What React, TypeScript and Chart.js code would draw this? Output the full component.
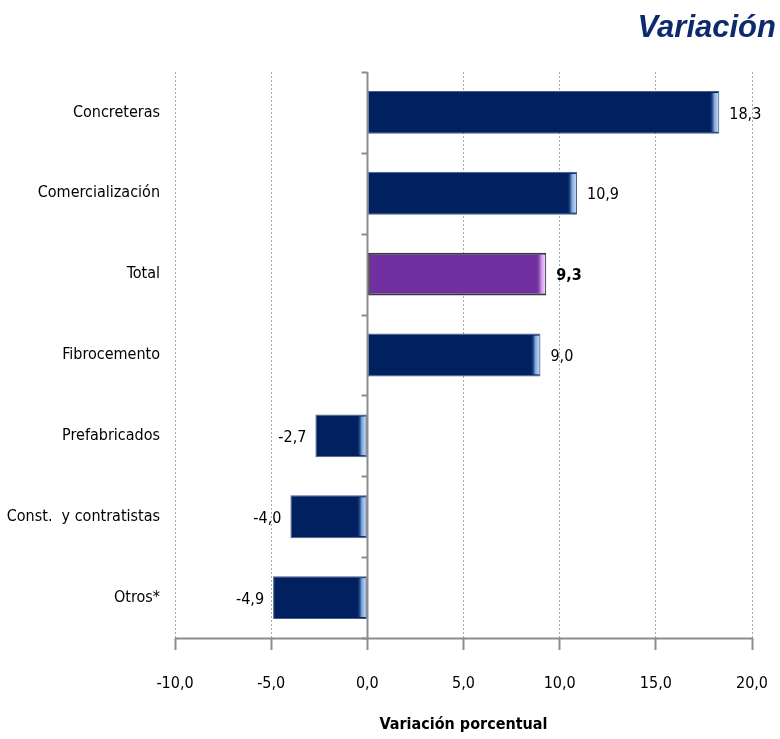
import React, { useEffect, useRef } from "react";
import { Chart, registerables } from "chart.js";

Chart.register(...registerables);

const categories = [
  "Concreteras",
  "Comercialización",
  "Total",
  "Fibrocemento",
  "Prefabricados",
  "Const.  y contratistas",
  "Otros*",
];
const values = [18.3, 10.9, 9.3, 9.0, -2.7, -4.0, -4.9];
const highlightCategory = "Total";
const xMin = -10;
const xMax = 20;
const xStep = 5;
const xTitle = "Variación porcentual";
const pageTitle = "Variación";

const FONT = "'Liberation Sans Narrow', 'DejaVu Sans Condensed', 'Noto Sans', sans-serif";
const NAVY = "#00205F";
const PURPLE = "#7030A0";

const fmt = (v: number) => v.toFixed(1).replace(".", ",");

const decorPlugin = {
  id: "decor",
  afterDatasetsDraw(chart: any) {
    const { ctx, chartArea, scales } = chart;
    const xs = scales.x;
    const ys = scales.y;
    const meta = chart.getDatasetMeta(0);
    ctx.save();
    ctx.setLineDash([]);
    // x axis line
    const yb = Math.round(chartArea.bottom) + 0.5;
    ctx.strokeStyle = "#8c8c8c";
    ctx.lineWidth = 2;
    ctx.beginPath();
    ctx.moveTo(xs.left, yb);
    ctx.lineTo(xs.right, yb);
    ctx.stroke();
    // zero line
    const x0 = Math.round(xs.getPixelForValue(0)) + 0.5;
    ctx.beginPath();
    ctx.moveTo(x0, chartArea.top);
    ctx.lineTo(x0, chartArea.bottom);
    ctx.stroke();
    // category boundary ticks on zero line
    const step = ys.getPixelForValue(1) - ys.getPixelForValue(0);
    for (let i = 0; i <= categories.length; i++) {
      const y = ys.getPixelForValue(i) - step / 2;
      ctx.beginPath();
      ctx.moveTo(x0 - 6, Math.round(y) + 0.5);
      ctx.lineTo(x0, Math.round(y) + 0.5);
      ctx.stroke();
    }
    // bevel highlights and labels
    meta.data.forEach((bar: any, i: number) => {
      const v = values[i];
      const isHi = categories[i] === highlightCategory;
      const right = Math.max(bar.x, bar.base);
      const top = bar.y - bar.height / 2;
      const h = bar.height;
      const g = ctx.createLinearGradient(right - 10, 0, right, 0);
      if (isHi) {
        g.addColorStop(0, "rgba(112,48,160,0)");
        g.addColorStop(0.5, "#c98ee8");
        g.addColorStop(1, "#f8ecff");
      } else {
        g.addColorStop(0, "rgba(0,32,95,0)");
        g.addColorStop(0.5, "#7fa8e0");
        g.addColorStop(1, "#d6e5f8");
      }
      ctx.fillStyle = g;
      ctx.fillRect(right - 10, top + 2, 9, h - 4);
      // labels
      ctx.fillStyle = "#000";
      ctx.font = (isHi ? "bold " : "") + "16px " + FONT;
      ctx.textBaseline = "middle";
      if (v >= 0) {
        ctx.textAlign = "left";
        ctx.fillText(fmt(v), bar.x + 10, bar.y + 2);
      } else {
        ctx.textAlign = "right";
        ctx.fillText(fmt(v), bar.x - 9, bar.y + 2);
      }
    });
    ctx.restore();
  },
};

export default function App() {
  const ref = useRef<HTMLCanvasElement | null>(null);
  useEffect(() => {
    if (!ref.current) return;
    const chart = new Chart(ref.current, {
      type: "bar",
      data: {
        labels: categories,
        datasets: [
          {
            data: values,
            backgroundColor: categories.map((c) => (c === highlightCategory ? PURPLE : NAVY)),
            borderColor: categories.map((c) => (c === highlightCategory ? "#3a3a3a" : "#4a5d88")),
            borderWidth: categories.map((c) => (c === highlightCategory ? 2 : 1)),
            borderSkipped: false,
            categoryPercentage: 0.53,
            barPercentage: 1,
          },
        ],
      },
      options: {
        indexAxis: "y",
        animation: false,
        responsive: false,
        maintainAspectRatio: false,
        layout: { padding: { top: 72, right: 28, left: 0, bottom: 0 } },
        plugins: {
          legend: { display: false },
          tooltip: { enabled: false },
          title: { display: false },
        },
        scales: {
          x: {
            min: xMin,
            max: xMax,
            ticks: {
              stepSize: xStep,
              padding: 24,
              color: "#000",
              font: { family: FONT, size: 16 },
              callback: (v: any) => fmt(Number(v)),
            },
            grid: {
              color: "#a6a6a6",
              lineWidth: 1,
              drawTicks: true,
              tickLength: 12,
              tickColor: "#8c8c8c",
              tickWidth: 2,
              tickBorderDash: [],
            },
            border: { display: false, dash: [2, 2] },
            title: {
              display: true,
              text: xTitle,
              color: "#000",
              font: { family: FONT, size: 16, weight: "bold" },
              padding: { top: 10, bottom: 5 },
            },
            afterFit: (s: any) => {
              s.height = 101;
              s.paddingRight = 0;
              s.paddingLeft = 0;
            },
          },
          y: {
            position: "left",
            ticks: {
              color: "#000",
              font: { family: FONT, size: 16 },
              padding: 15,
            },
            grid: { display: false, drawTicks: false },
            border: { display: false },
            afterFit: (s: any) => {
              s.width = 175;
            },
          },
        },
      },
      plugins: [decorPlugin],
    } as any);
    return () => chart.destroy();
  }, []);
  return (
    <div style={{ position: "fixed", left: 0, top: 0, width: 780, height: 739, background: "#fff" }}>
      <canvas ref={ref} width={780} height={739} style={{ width: 780, height: 739, display: "block" }} />
      <div
        style={{
          position: "absolute",
          right: 4,
          top: 9,
          fontFamily: "'Liberation Sans', Arial, sans-serif",
          fontWeight: "bold",
          fontStyle: "italic",
          fontSize: 31,
          color: "#0D2A6E",
        }}
      >
        {pageTitle}
      </div>
    </div>
  );
}
